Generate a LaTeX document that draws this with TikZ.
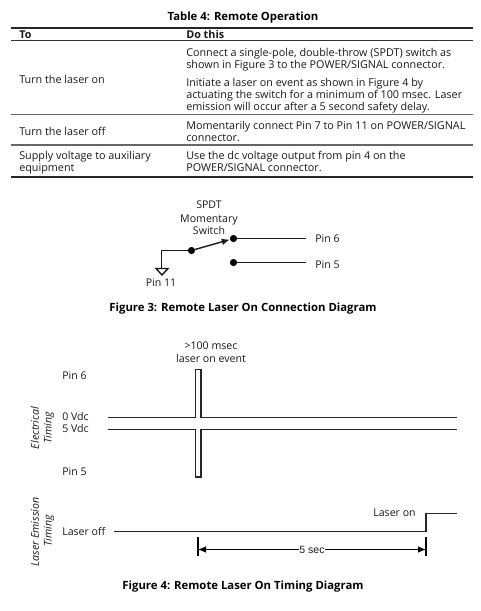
\documentclass[tikz,border=0pt]{standalone}
\usepackage{fontspec}
\setmainfont{Open Sans}
\newfontfamily\arialish{Liberation Sans}
\usetikzlibrary{arrows.meta}
\newcommand{\bodyfs}{\fontsize{8.1}{10}\selectfont}
\newcommand{\capfs}{\fontsize{8.5}{10}\selectfont\bfseries}
\newcommand{\smallfs}{\fontsize{7.95}{10}\selectfont}
\tikzset{
  x=0.75pt,y=-0.75pt,
  txt/.style={inner sep=0,anchor=base west,font=\bodyfs,text=black!90},
  capt/.style={inner sep=0,anchor=base,font=\capfs},
  lab/.style={inner sep=0,anchor=base,font=\smallfs,text=black!90},
  labw/.style={lab,anchor=base west},
  side/.style={inner sep=0,rotate=90,font=\smallfs\itshape,text=black!90},
  rulethick/.style={line width=1.5pt,black!85},
  rulethin/.style={line width=0.9pt,black!60},
  wire/.style={line width=1.05pt,black!90},
  sig/.style={line width=1.15pt,black!85},
  dot/.style={circle,fill=black,inner sep=0,minimum size=5.4pt},
  dim/.style={line width=0.8pt,black},
}
\begin{document}
\begin{tikzpicture}
\useasboundingbox (0,0) rectangle (481,611);
% table
\node[capt] (t) at (243,20.5) {Table 4: Remote Operation};
\coordinate (tl1) at (11,27.5); \coordinate (tr1) at (473,27.5);
\coordinate (tl2) at (11,40.5); \coordinate (tr2) at (473,40.5);
\coordinate (tl3) at (11,114.5); \coordinate (tr3) at (473,114.5);
\coordinate (tl4) at (11,145); \coordinate (tr4) at (473,145);
\coordinate (tl5) at (11,176.5); \coordinate (tr5) at (473,176.5);
\draw[rulethick] (tl1) -- (tr1);
\draw[line width=0.8pt,black!80] (tl2) -- (tr2);
\draw[rulethin] (tl3) -- (tr3);
\draw[rulethin] (tl4) -- (tr4);
\draw[rulethick] (tl5) -- (tr5);
\node[txt,font=\bodyfs\bfseries] (h1) at (19,38.5) {To};
\node[txt,font=\bodyfs\bfseries] (h2) at (186,38.5) {Do this};
\node[txt] (a1) at (19,83) {Turn the laser on};
\node[txt] (a2) at (19,135) {Turn the laser off};
\node[txt] (a3) at (19,159) {Supply voltage to auxiliary};
\node[txt] (a4) at (19,171.5) {equipment};
\node[txt] (b1) at (186,56) {Connect a single-pole, double-throw (SPDT) switch as};
\node[txt] (b2) at (186,68.5) {shown in Figure 3 to the POWER/SIGNAL connector.};
\node[txt] (b3) at (186,86.5) {Initiate a laser on event as shown in Figure 4 by};
\node[txt] (b4) at (186,98.5) {actuating the switch for a minimum of 100 msec. Laser};
\node[txt] (b5) at (186,110.5) {emission will occur after a 5 second safety delay.};
\node[txt] (b6) at (186,129) {Momentarily connect Pin 7 to Pin 11 on POWER/SIGNAL};
\node[txt] (b7) at (186,141.5) {connector.};
\node[txt] (b8) at (186,159) {Use the dc voltage output from pin 4 on the};
\node[txt] (b9) at (186,171.5) {POWER/SIGNAL connector.};
% figure 3
\node[lab] (s1) at (209,208.7) {SPDT};
\node[lab] (s2) at (209,222) {Momentary};
\node[lab] (s3) at (209,234.3) {Switch};
\node[dot] (d0) at (191.5,250.5) {};
\node[dot] (d1) at (233.5,238.5) {};
\node[dot] (d2) at (233.5,262.5) {};
\coordinate (e1) at (306,238.5);
\coordinate (e2) at (306,262.5);
\coordinate (g) at (161.5,250.5);
\coordinate (g0) at (161.5,268.5);
\coordinate (gl) at (156,268.5);
\coordinate (gr) at (168,268.5);
\coordinate (ga) at (162,275);
\node[labw] (p6) at (315,242.2) {Pin 6};
\node[labw] (p5) at (315,268.7) {Pin 5};
\node[lab] (p11) at (161,286.7) {Pin 11};
\draw[wire] (d1) -- (e1);
\draw[wire] (d2) -- (e2);
\draw[wire] (d0) -- (g) -- (g0);
\draw[wire] (gl) -- (gr) -- (ga) -- cycle;
\draw[wire,-{Latex[length=6pt,width=5pt]}] (d0) -- (d1);
\node[capt] (c3) at (243,311.5) {Figure 3: Remote Laser On Connection Diagram};
% figure 4
\node[lab] (e1t) at (211,349) {>100 msec};
\node[lab] (e2t) at (211,362.5) {laser on event};
\node[labw] (q6) at (62,379) {Pin 6};
\node[labw] (v0) at (62,420.7) {0 Vdc};
\node[labw] (v5) at (62,432.7) {5 Vdc};
\node[labw] (q5) at (62,475) {Pin 5};
\node[side] (el) at (35,428) {Electrical};
\node[side] (et) at (49,428) {Timing};
\node[side] (ll) at (35,532) {Laser Emission};
\node[side] (lt) at (49,531) {Timing};
\coordinate (a0) at (108,417.5); \coordinate (a1c) at (195.5,417.5);
\coordinate (a2c) at (195.5,369.5); \coordinate (a3c) at (201,369.5);
\coordinate (a4c) at (201,417.5); \coordinate (a5c) at (457,417.5);
\draw[sig] (a0) -- (a1c) -- (a2c) -- (a3c) -- (a4c) -- (a5c);
\coordinate (b0) at (108,429.5); \coordinate (b1c) at (195.5,429.5);
\coordinate (b2c) at (195.5,477); \coordinate (b3c) at (201,477);
\coordinate (b4c) at (201,429.5); \coordinate (b5c) at (457,429.5);
\draw[sig] (b0) -- (b1c) -- (b2c) -- (b3c) -- (b4c) -- (b5c);
\node[labw] (lo) at (62,535) {Laser off};
\node[lab,anchor=base east] (ln) at (416,516.7) {Laser on};
\coordinate (l0) at (114,531.5); \coordinate (l1) at (426,531.5);
\coordinate (l2) at (426,513.5); \coordinate (l3) at (457,513.5);
\draw[sig] (l0) -- (l1) -- (l2) -- (l3);
\coordinate (t1a) at (198,537); \coordinate (t1b) at (198,555.5);
\coordinate (t2a) at (426,537); \coordinate (t2b) at (426,555.5);
\draw[dim] (t1a) -- (t1b);
\draw[dim] (t2a) -- (t2b);
\coordinate (da) at (198,549.5); \coordinate (db) at (426,549.5);
\node[lab,anchor=center,font=\arialish\fontsize{7.9}{9}\selectfont,inner xsep=0pt] (fs) at (312,549.5) {5 sec};
\draw[dim,-{Latex[length=6pt,width=5pt]}] (fs) -- (da);
\draw[dim,-{Latex[length=6pt,width=5pt]}] (fs) -- (db);
\node[capt] (c4) at (243,589) {Figure 4: Remote Laser On Timing Diagram};
\end{tikzpicture}
\end{document}
